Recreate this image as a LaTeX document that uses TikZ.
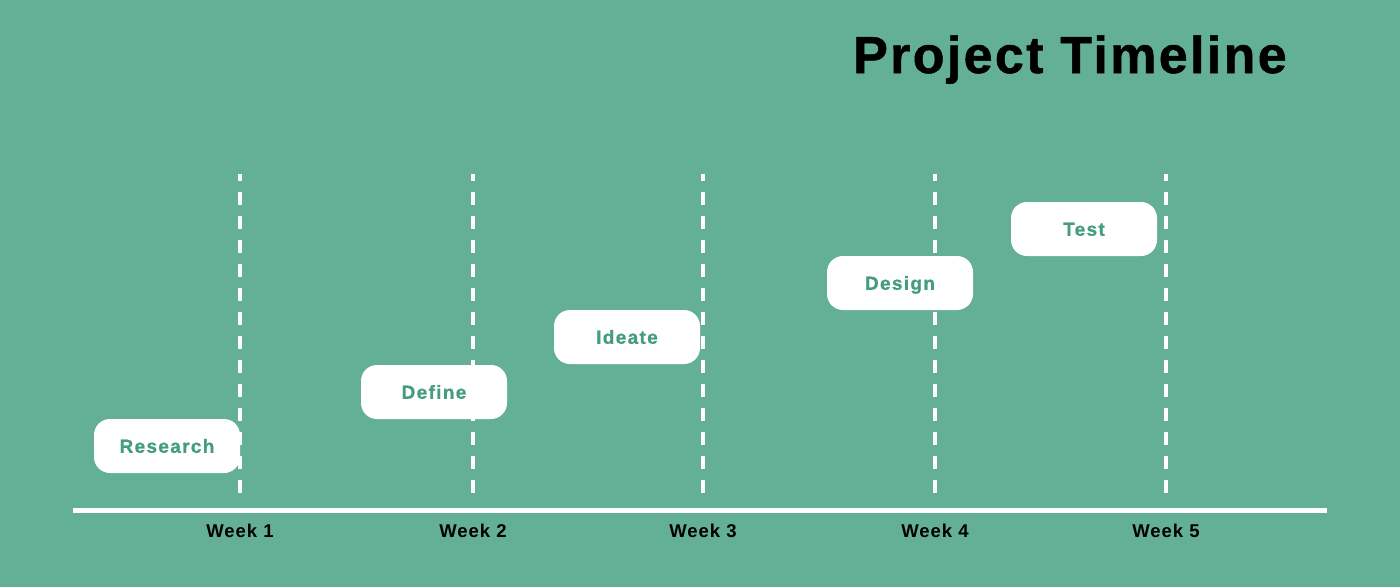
\documentclass[tikz,border=0pt]{standalone}
\usepackage{fontspec}
\setmainfont{Liberation Sans}
\newfontfamily\boxfont[LetterSpace=7, BoldFeatures={FakeBold=0.8}]{Liberation Sans}
\newfontfamily\weekfont[LetterSpace=5]{Liberation Sans}
\newfontfamily\titlefont[LetterSpace=4.5, BoldFeatures={FakeBold=1}]{Liberation Sans}
\definecolor{bgGreen}{HTML}{63B096}
\definecolor{taskText}{HTML}{459E7B}
\begin{document}
\begin{tikzpicture}[x=1pt,y=-1pt,
  taskbox/.style={fill=white, rounded corners=16pt, minimum width=146pt, minimum height=54pt,
    inner sep=0pt, text height=13.6pt, text depth=0pt, text=taskText,
    font=\boxfont\fontsize{19}{23}\selectfont\bfseries},
  weekline/.style={draw=white, line width=3.6pt, dash pattern=on 13pt off 11pt, dash phase=6pt},
  weeklabel/.style={text=black, font=\weekfont\fontsize{18.5}{22}\selectfont\bfseries, anchor=base},
  axis/.style={draw=white, line width=5pt}]
  % background
  \fill[bgGreen] (0,0) rectangle (1400,587);
  \useasboundingbox (0,0) rectangle (1400,587);
  % title
  \node[anchor=base west, inner sep=0pt, font=\titlefont\fontsize{52}{60}\selectfont\bfseries, text=black] (title) at (853,73) {Project Timeline};
  % axis
  \coordinate (axL) at (73,510);
  \coordinate (axR) at (1327,510);
  \draw[axis] (axL) -- (axR);
  % week markers
  \foreach \i/\x in {1/240, 2/473, 3/703, 4/935, 5/1166} {
    \coordinate (top\i) at (\x,174);
    \coordinate (bot\i) at (\x,495);
    \draw[weekline] (top\i) -- (bot\i);
    \node[weeklabel] (week\i) at (\x,537) {Week \i};
  }
  % task boxes
  \node[taskbox] (research) at (167,446) {Research};
  \node[taskbox] (define) at (434,392) {Define};
  \node[taskbox] (ideate) at (627,337) {Ideate};
  \node[taskbox] (design) at (900,283) {Design};
  \node[taskbox] (test) at (1084,229) {Test};
\end{tikzpicture}
\end{document}
